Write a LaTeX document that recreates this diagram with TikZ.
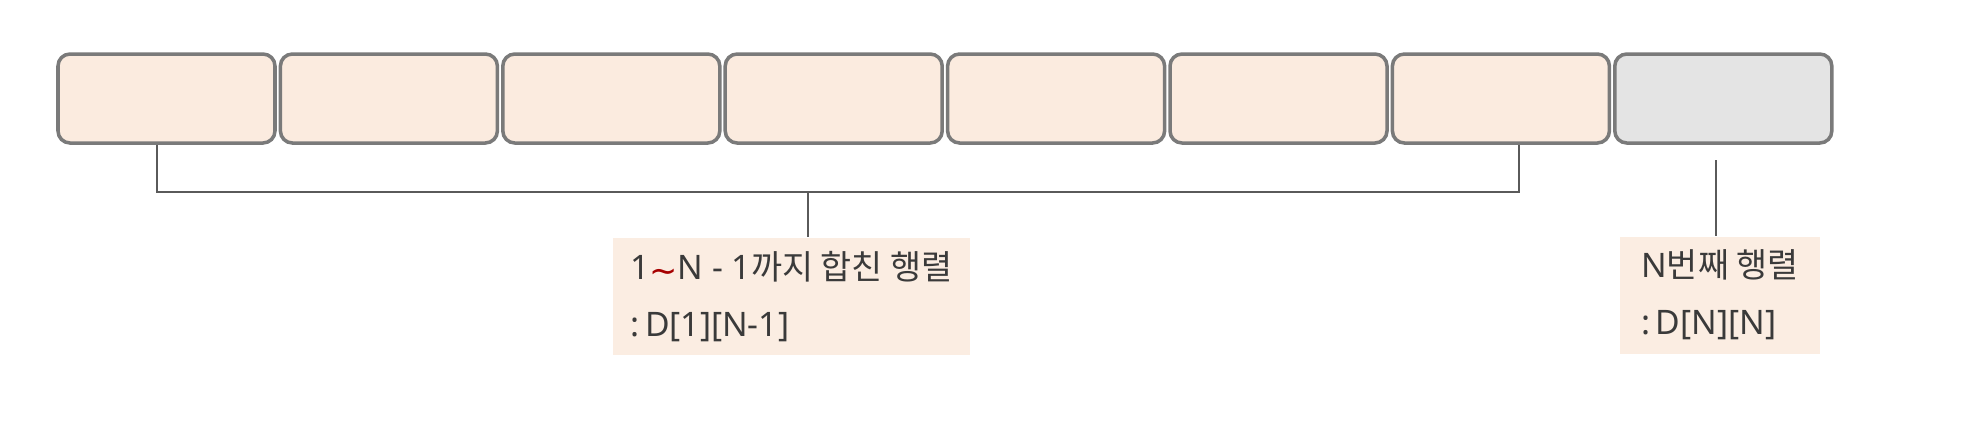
\documentclass[tikz,border=0pt]{standalone}
\usepackage{fontspec}
\setmainfont{Noto Sans}
\newfontfamily\kr{Noto Sans CJK KR}
\newfontfamily\sym{DejaVu Sans}
\usepackage{xcolor}
\usepackage{tikz}
\usetikzlibrary{positioning,calc}

\definecolor{peach}{HTML}{FBEBDF}
\definecolor{cellgray}{HTML}{E4E4E4}
\definecolor{edgegray}{HTML}{7A7A7A}
\definecolor{linegray}{HTML}{5A5A5A}
\definecolor{labfill}{HTML}{FBEDE2}
\definecolor{textgray}{HTML}{3A3A3A}

\begin{document}
\begin{tikzpicture}[
cell/.style={rectangle, rounded corners=0.12cm, draw=edgegray, line width=1pt, minimum width=2.17cm, minimum height=0.89cm},
tag/.style={rectangle, fill=labfill, minimum height=1.17cm, align=left, text=textgray, font=\fontsize{9.6pt}{16.3pt}\selectfont},
wire/.style={draw=linegray, line width=0.8pt}
]

% Canvas
\useasboundingbox[fill=white] (0,0) rectangle (19.63,-4.44);

% Matrix cells
\node[cell, fill=peach] (c1) at (1.665,-0.985) {};
\node[cell, fill=peach] (c2) at (3.889,-0.985) {};
\node[cell, fill=peach] (c3) at (6.113,-0.985) {};
\node[cell, fill=peach] (c4) at (8.337,-0.985) {};
\node[cell, fill=peach] (c5) at (10.561,-0.985) {};
\node[cell, fill=peach] (c6) at (12.785,-0.985) {};
\node[cell, fill=peach] (c7) at (15.009,-0.985) {};
\node[cell, fill=cellgray] (cn) at (17.233,-0.985) {};

% Labels
\node[tag, minimum width=3.57cm] (merged) at (7.915,-2.965)
  {1{\sym\color{red!65!black}\raisebox{-0.2ex}{∼}}N - 1{\kr 까지 합친 행렬}\\:\,D[1][N-1]};
\node[tag, minimum width=2.0cm] (last) at (17.20,-2.95)
  {N{\kr 번째 행렬}\\:\,D[N][N]};

% Bracket over cells 1 to N-1
\coordinate (brL) at (1.57,-1.92);
\coordinate (brR) at (15.19,-1.92);
\coordinate (brM) at (8.08,-1.92);
\draw[wire] (c1.south -| brL) -- (brL) -- (brR) -- (c7.south -| brR);
\draw[wire] (brM) -- (brM |- merged.north);

% Stem to last cell label
\coordinate (stemN) at (17.16,-1.60);
\draw[wire] (stemN) -- (stemN |- last.north);

\end{tikzpicture}
\end{document}
